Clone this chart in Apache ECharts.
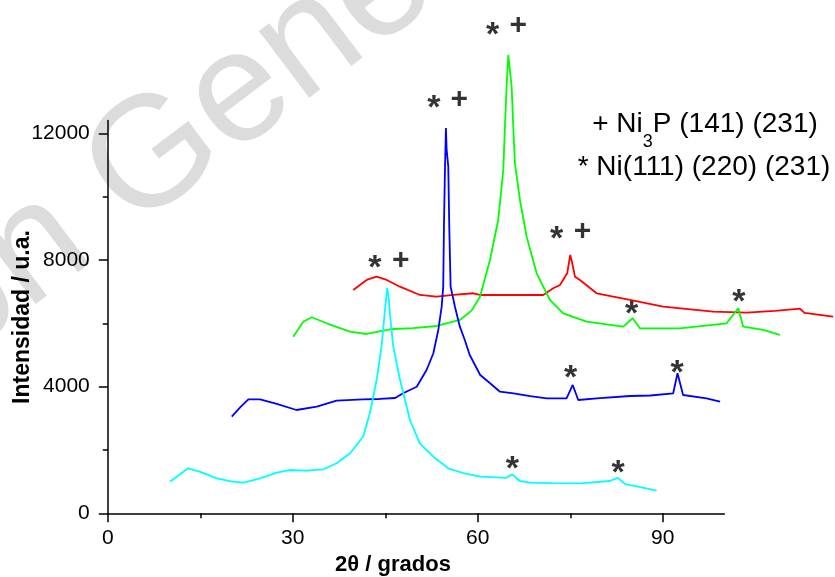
<!DOCTYPE html>
<html><head><meta charset="utf-8">
<script src="https://cdn.jsdelivr.net/npm/echarts@6/dist/echarts.min.js"></script>
<style>html,body{margin:0;padding:0;background:#fff}#c{width:835px;height:577px}</style>
</head><body><div id="c"></div>
<script>
// axis ticks
const xTicks = [0, 30, 60, 90];
const xMinorTicks = [15, 45, 75];
const yTicks = [0, 4000, 8000, 12000];
const yMinorTicks = [2000, 6000, 10000];

// series (2θ, intensity)
const redAngle = [39.81,41.98,43.6,45.23,47.38,50.63,53.33,56.03,59.27,60.36,63.6,66.84,70.62,72.24,73.33,74.51,75.0,75.28,75.77,76.57,79.28,84.68,90.08,98.19,103.6,108.2,112.25,113.0,117.65];
const redInt   = [7052,7368,7472,7368,7156,6894,6840,6894,6948,6894,6894,6894,6894,7106,7210,7579,8157,7936,7472,7368,6948,6736,6524,6366,6335,6389,6460,6330,6209];

const greenAngle = [30.08,31.7,33.06,35.5,39.28,41.98,45.76,49.5,53.33,57.11,59.0,60.36,61.98,63.32,64.14,64.41,64.68,64.95,65.2,65.5,65.76,66.03,66.84,67.93,69.55,71.71,73.86,77.66,83.59,85.12,86.3,92.79,100.36,102.24,103.05,106.3,109.0];
const greenInt   = [5577,6051,6190,6000,5735,5662,5811,5850,5915,6104,6400,6840,7999,9262,10841,12209,13472,14473,14000,13472,12209,11053,9894,8735,7579,6736,6316,6051,5893,6158,5842,5842,6000,6474,5893,5789,5631];

const blueAngle = [20.1,21.5,22.8,24.7,27.4,30.6,33.9,37.1,41.4,44.1,46.6,47.9,50.1,51.7,52.8,53.6,54.15,54.4,54.52,54.68,54.84,54.95,55.22,55.38,55.6,56.3,57.1,57.9,58.7,60.4,62.0,63.6,65.8,68.5,71.2,74.4,75.4,76.3,79.3,84.7,88.0,91.7,92.4,93.3,97.1,99.3];
const blueInt   = [3051,3350,3600,3600,3452,3262,3366,3556,3600,3610,3641,3790,3998,4525,5053,5789,6524,7156,9051,10841,12168,11500,10946,9051,7156,6524,5893,5473,4999,4368,4105,3840,3790,3700,3632,3632,4052,3578,3632,3704,3720,3790,4421,3736,3632,3524];

const cyanAngle = [10.1,11.5,13.0,14.9,17.7,20.0,22.0,24.7,27.4,29.5,32.2,35.0,37.1,39.3,41.4,42.5,43.6,44.4,44.9,45.3,45.5,45.9,46.3,47.4,49.0,50.6,52.8,55.2,57.5,60.4,64.6,65.6,66.8,68.5,72.0,76.6,81.4,82.7,83.9,86.0,89.0];
const cyanInt   = [998,1200,1420,1314,1105,1010,966,1105,1282,1367,1345,1390,1579,1895,2419,3158,4210,5261,6316,7115,6900,6000,5261,4210,2946,2211,1787,1421,1280,1156,1120,1230,1020,966,950,947,1020,1120,925,840,714];

// peak markers
const starPos = [[43.33,8000],[52.9,13052],[62.42,15367],[72.79,8925],[84.96,6547],[102.36,6948],[75.06,4548],[92.35,4705],[65.6,1652],[82.78,1547]];
const plusPos = [[47.5,7977],[57.0,13052],[66.57,15398],[77.01,8893]];

const pair = (xs, ys) => xs.map((x, i) => [x, ys[i]]);

function curve(name, color, xs, ys) {
  return {
    name, type: 'line', data: pair(xs, ys), showSymbol: false, clip: false,
    xAxisIndex: 2, yAxisIndex: 2,
    lineStyle: { color, width: 1.8 }, itemStyle: { color },
    areaStyle: { color: '#ffffff', opacity: 1, origin: 'start' },
    emphasis: { disabled: true }, silent: true
  };
}

function marks(name, pts, text, size, offY) {
  return {
    name, type: 'scatter', data: pts, symbolSize: 1, clip: false, z: 20,
    xAxisIndex: 2, yAxisIndex: 2,
    itemStyle: { color: 'rgba(0,0,0,0)' }, silent: true,
    label: { show: true, position: 'inside', formatter: text, offset: [0, offY],
      color: '#000', fontSize: size, fontWeight: 'bold', fontFamily: 'Liberation Sans',
      textBorderWidth: 0 }
  };
}

const font = 'Liberation Sans';
const chart = echarts.init(document.getElementById('c'), null, { renderer: 'canvas' });
const axisBase = {
  type: 'value', z: 10, gridIndex: 0,
  axisLine: { show: true, lineStyle: { color: '#000', width: 1.5 } },
  splitLine: { show: false }
};
const plain = v => String(v);
chart.setOption({
  animation: false,
  backgroundColor: '#fff',
  grid: [
    { left: 107.8, right: 110.6, top: 120.6, bottom: 63.7 },
    { left: 107.8, right: 0, top: 6.6, bottom: 63.7 }
  ],
  xAxis: [
    Object.assign({}, axisBase, { min: 0, max: 100, position: 'bottom',
      axisTick: { show: true, customValues: xTicks, length: 9, lineStyle: { color: '#000', width: 1.5 } },
      axisLabel: { customValues: xTicks, formatter: plain, color: '#000', fontSize: 21, fontFamily: font, margin: 14 } }),
    Object.assign({}, axisBase, { min: 0, max: 100, position: 'bottom', axisLine: { show: false },
      axisTick: { show: true, customValues: xMinorTicks, length: 5, lineStyle: { color: '#000', width: 1.5 } },
      axisLabel: { show: false } }),
    { type: 'value', gridIndex: 1, min: 0, max: 117.94, show: false }
  ],
  yAxis: [
    Object.assign({}, axisBase, { min: 0, max: 12400, position: 'left',
      axisTick: { show: true, customValues: yTicks, length: 9, lineStyle: { color: '#000', width: 1.5 } },
      axisLabel: { customValues: yTicks, formatter: plain, color: '#000', fontSize: 21, fontFamily: font, margin: 18 } }),
    Object.assign({}, axisBase, { min: 0, max: 12400, position: 'left', axisLine: { show: false },
      axisTick: { show: true, customValues: yMinorTicks, length: 5, lineStyle: { color: '#000', width: 1.5 } },
      axisLabel: { show: false } }),
    { type: 'value', gridIndex: 1, min: 0, max: 16000, show: false }
  ],
  series: [
    curve('red', '#ff0000', redAngle, redInt),
    curve('green', '#00ff00', greenAngle, greenInt),
    curve('blue', '#0000ff', blueAngle, blueInt),
    curve('cyan', '#00ffff', cyanAngle, cyanInt),
    marks('stars', starPos, '*', 34, 9),
    marks('plus', plusPos, '+', 30, 0)
  ],
  graphic: { elements: [
    { type: 'text', z: -5, x: -350, y: 540, rotation: 37 * Math.PI / 180, silent: true,
      style: { text: 'Version Generator', fill: '#dcdcdc', fontSize: 158, fontFamily: font,
        textAlign: 'left', textVerticalAlign: 'middle' } },
    { type: 'text', z: 30, x: 23, y: 317, rotation: Math.PI / 2, silent: true,
      style: { text: 'Intensidad / u.a.', fill: '#000', fontSize: 23, fontWeight: 'bold', fontFamily: font,
        textAlign: 'center', textVerticalAlign: 'middle' } },
    { type: 'text', z: 30, x: 393, y: 565, silent: true,
      style: { text: '2θ / grados', fill: '#000', fontSize: 22, fontWeight: 'bold', fontFamily: font,
        textAlign: 'center', textVerticalAlign: 'middle' } },
    { type: 'text', z: 30, x: 705, y: 110, silent: true,
      style: { text: '{n|+ Ni}{s|3}{n|P (141) (231)}', textAlign: 'center', textVerticalAlign: 'top',
        rich: {
          n: { fontSize: 28, lineHeight: 28, fontFamily: font, color: '#000', verticalAlign: 'top' },
          s: { fontSize: 18, lineHeight: 18, fontFamily: font, color: '#000', verticalAlign: 'top', padding: [23, 0, 0, 0] }
        } } },
    { type: 'text', z: 30, x: 704, y: 167, silent: true,
      style: { text: '* Ni(111) (220) (231)', fill: '#000', fontSize: 28, fontFamily: font,
        textAlign: 'center', textVerticalAlign: 'middle' } }
  ] }
});
</script></body></html>
